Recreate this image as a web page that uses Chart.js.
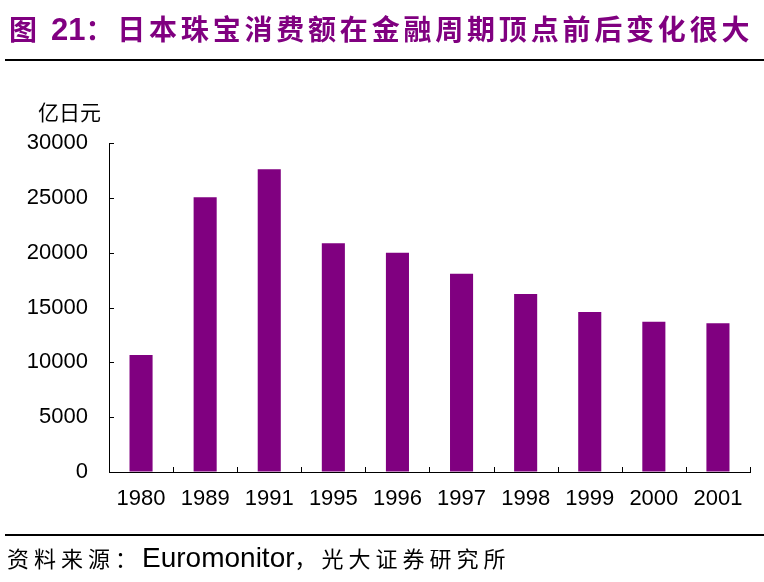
<!DOCTYPE html>
<html>
<head>
<meta charset="utf-8">
<script src="https://cdn.jsdelivr.net/npm/chart.js@4.4.1/dist/chart.umd.min.js"></script>
<style>
  body { margin: 0; background: #fff; }
  #wrap { position: relative; width: 764px; height: 582px; overflow: hidden; }
  #chartBox { position: absolute; left: 0; top: 0; width: 764px; height: 582px; }
  .title { position: absolute; left: 9px; top: 9px; color: #800080; font-family: "Noto Sans CJK SC", sans-serif; font-weight: bold; font-size: 28px; letter-spacing: 3.8px; white-space: nowrap; line-height: 38px; }
  .title .num { font-family: "Liberation Sans", Arial, sans-serif; font-size: 31px; letter-spacing: 0; }
  .hline { position: absolute; left: 5px; right: 0; height: 2px; background: #000; }
  .unit { position: absolute; left: 38px; top: 96px; font-family: "Noto Sans CJK SC", sans-serif; font-size: 21px; color: #000; line-height: 30px; }
  .foot { position: absolute; left: 7px; top: 540px; font-family: "Noto Sans CJK SC", sans-serif; font-size: 22px; letter-spacing: 5px; color: #000; white-space: nowrap; line-height: 34px; }
  .foot .en { font-family: "Liberation Sans", Arial, sans-serif; font-size: 28px; letter-spacing: 0; }
</style>
</head>
<body>
<div id="wrap">
  <div id="chartBox"><canvas id="myChart" width="764" height="582"></canvas></div>
  <div class="title">图 <span class="num">21</span>：日本珠宝消费额在金融周期顶点前后变化很大</div>
  <div class="hline" style="top:59px"></div>
  <div class="unit">亿日元</div>
  <div class="hline" style="top:534px"></div>
  <div class="foot">资料来源：<span class="en">Euromonitor</span>，光大证券研究所</div>
</div>
<script>
// 数据
const years = ['1980', '1989', '1991', '1995', '1996', '1997', '1998', '1999', '2000', '2001'];
const sales = [10670, 25050, 27600, 20850, 20000, 18080, 16230, 14590, 13710, 13560];
const yTicks = [0, 5000, 10000, 15000, 20000, 25000, 30000];

const barColor = '#800080';

// 刻度线画在坐标轴内侧
const innerTicks = {
    id: 'innerTicks',
    afterDraw(chart) {
        const ctx = chart.ctx;
        const x = chart.scales.x;
        const y = chart.scales.y;
        ctx.save();
        ctx.strokeStyle = '#000';
        ctx.lineWidth = 1;
        ctx.beginPath();
        yTicks.forEach(v => {
            const py = Math.round(y.getPixelForValue(v)) + 0.5;
            ctx.moveTo(x.left, py);
            ctx.lineTo(x.left + 5, py);
        });
        const step = x.getPixelForValue(1) - x.getPixelForValue(0);
        for (let i = 0; i <= years.length; i++) {
            const px = Math.round(x.getPixelForValue(0) - step / 2 + i * step) + 0.5;
            ctx.moveTo(px, y.bottom);
            ctx.lineTo(px, y.bottom - 5);
        }
        ctx.stroke();
        ctx.restore();
    }
};

const ctx = document.getElementById('myChart').getContext('2d');
const myChart = new Chart(ctx, {
    type: 'bar',
    data: {
        labels: years,
        datasets: [{
            data: sales,
            backgroundColor: barColor,
            borderWidth: 0,
            categoryPercentage: 1,
            barPercentage: 0.36
        }]
    },
    options: {
        responsive: false,
        animation: false,
        layout: { padding: { top: 143, right: 14, bottom: 0, left: 0 } },
        plugins: { legend: { display: false }, tooltip: { enabled: false } },
        scales: {
            x: {
                grid: { display: true, drawOnChartArea: false, drawTicks: false },
                border: { display: true, color: '#000', width: 1 },
                ticks: {
                    color: '#000',
                    padding: 14,
                    maxRotation: 0,
                    font: { family: '"Liberation Sans", Arial, sans-serif', size: 22 }
                },
                afterFit(scale) { scale.height = 110; }
            },
            y: {
                min: 0,
                max: 30000,
                grid: { display: true, drawOnChartArea: false, drawTicks: false },
                border: { display: true, color: '#000', width: 1 },
                afterBuildTicks(scale) { scale.ticks = yTicks.map(v => ({ value: v })); },
                ticks: {
                    color: '#000',
                    padding: 21,
                    callback: v => String(v),
                    font: { family: '"Liberation Sans", Arial, sans-serif', size: 22 }
                },
                afterFit(scale) { scale.width = 109; }
            }
        }
    },
    plugins: [innerTicks]
});
</script>
</body>
</html>
